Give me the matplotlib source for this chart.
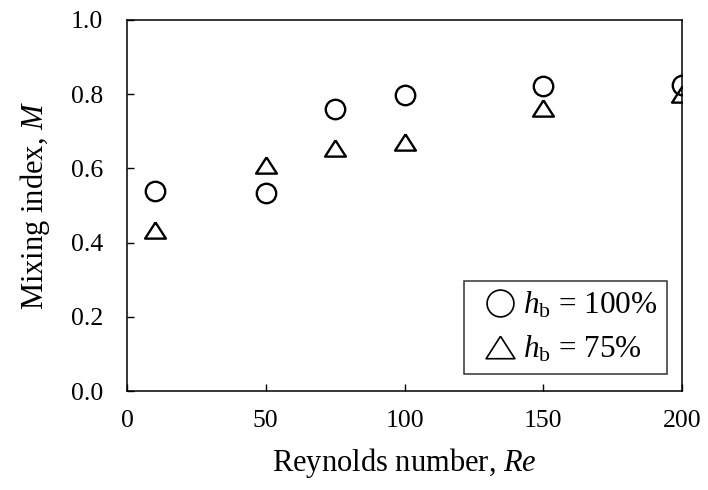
import matplotlib
matplotlib.use('Agg')
import matplotlib.pyplot as plt

plt.rcParams['font.family'] = 'Liberation Serif'
plt.rcParams['mathtext.fontset'] = 'custom'
plt.rcParams['mathtext.rm'] = 'Liberation Serif'
plt.rcParams['mathtext.it'] = 'Liberation Serif:italic'

# Mixing index vs Reynolds number for two baffle heights
re = [10, 50, 75, 100, 150, 200]
m_100 = [0.540, 0.535, 0.761, 0.799, 0.822, 0.826]
m_75 = [0.433, 0.609, 0.656, 0.672, 0.764, 0.800]

# slightly flattened open triangle
tri = [(0, 0.78), (-1, -0.78), (1, -0.78), (0, 0.78)]

fig = plt.figure(figsize=(7.08, 4.9), dpi=100)
ax = fig.add_axes([127 / 708, 1 - 391 / 490, (682 - 127) / 708, (391 - 20) / 490])

ax.plot(re, m_100, ls='none', marker='o', ms=14, mfc='none', mec='black',
        mew=1.7, label=r'$h_\mathrm{b}$ = 100%')
ax.plot(re, m_75, ls='none', marker=tri, ms=15, mfc='none', mec='black',
        mew=1.7, label=r'$h_\mathrm{b}$ = 75%')

ax.set_xlim(0, 200)
ax.set_ylim(0, 1.0)
ax.set_xticks([0, 50, 100, 150, 200])
ax.set_yticks([0.0, 0.2, 0.4, 0.6, 0.8, 1.0])
ax.set_yticklabels(['0.0', '0.2', '0.4', '0.6', '0.8', '1.0'])
ax.tick_params(direction='in', length=5, width=1.0, labelsize=18.5)
ax.tick_params(axis='x', pad=14)
ax.tick_params(axis='y', pad=17)
for s in ax.spines.values():
    s.set_linewidth(1.1)

ax.set_xlabel(r'Reynolds number, $Re$', fontsize=22, labelpad=10)
ax.set_ylabel(r'Mixing index, $M$', fontsize=22, labelpad=14)

leg = ax.legend(loc='lower right', fontsize=22.5, frameon=True, fancybox=False,
                edgecolor='black', handlelength=1.7, handletextpad=-0.1,
                markerscale=1.38, borderpad=0.3, labelspacing=0.42,
                borderaxespad=0, bbox_to_anchor=(0.973, 0.046))
leg.get_frame().set_linewidth(1.1)
for h in leg.legend_handles:
    h.set_markeredgewidth(1.2)

fig.savefig('out.png', dpi=100)
